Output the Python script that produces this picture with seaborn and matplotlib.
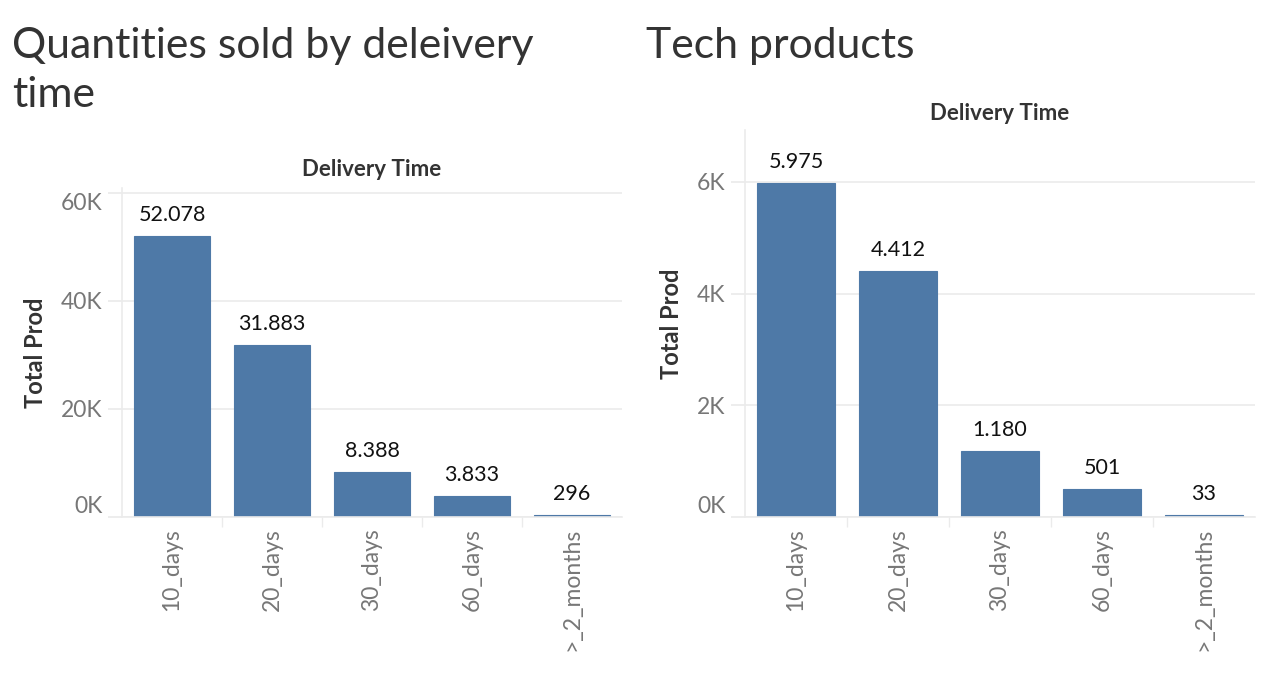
import matplotlib
matplotlib.use("Agg")
import matplotlib.pyplot as plt
from matplotlib.ticker import FuncFormatter, FixedLocator
import seaborn as sns
import pandas as pd

categories = ["10_days", "20_days", "30_days", "60_days", ">_2_months"]
all_qty = [52078, 31883, 8388, 3833, 296]
tech_qty = [5975, 4412, 1180, 501, 33]
left_ticks = [0, 20000, 40000, 60000]
right_ticks = [0, 2000, 4000, 6000]

sns.set_theme(style="white")
plt.rcParams["font.family"] = ["Lato", "DejaVu Sans"]

BAR = "#4e79a7"
GRID = "#ebebeb"
TICK = "#777777"

fig = plt.figure(figsize=(12.64, 6.88), dpi=100)
ax1 = fig.add_axes([122/1264, 1-517/688, 500/1264, (517-188)/688])
ax2 = fig.add_axes([745/1264, 1-517/688, 510/1264, (517-130)/688])

def kfmt(v, pos):
    return f"{int(round(v/1000))}K"

def draw(ax, vals, ticks, ymax, width, top_shift):
    df = pd.DataFrame({"cat": categories, "val": vals})
    sns.barplot(data=df, x="cat", y="val", color=BAR, width=width, ax=ax,
                saturation=1, order=categories, edgecolor=BAR, linewidth=0.8)
    ax.set_xlim(-0.5, 4.5)
    ax.set_ylim(0, ymax)
    ax.yaxis.set_major_locator(FixedLocator(ticks))
    ax.yaxis.set_major_formatter(FuncFormatter(kfmt))
    ax.grid(axis="y", color=GRID, linewidth=1.2)
    ax.set_axisbelow(True)
    for s in ["top", "right"]:
        ax.spines[s].set_visible(False)
    for s in ["left", "bottom"]:
        ax.spines[s].set_color(GRID)
        ax.spines[s].set_linewidth(1.2)
    ax.tick_params(axis="y", length=10, color=GRID, labelsize=16.5,
                   labelcolor=TICK, pad=4, left=True)
    ax.tick_params(axis="x", length=0, labelsize=16.5, labelcolor=TICK,
                   rotation=90, pad=8)
    ax.set_xlabel("")
    ax.set_ylabel("Total Prod", fontsize=17, fontweight="bold", color="#333333",
                  labelpad=10)
    for c in ax.containers:
        ax.bar_label(c, labels=[f"{v:,}".replace(",", ".") for v in vals],
                     fontsize=15.5, color="#111111", padding=8)
    ax.xaxis.set_minor_locator(FixedLocator([0.5, 1.5, 2.5, 3.5]))
    ax.tick_params(axis="x", which="minor", length=7, color=GRID, bottom=True)
    fig.canvas.draw()
    labs = ax.get_yticklabels()
    labs[0].set_va("bottom")
    if top_shift:
        labs[-1].set_va("top")

draw(ax1, all_qty, left_ticks, 60900, 0.76, True)
draw(ax2, tech_qty, right_ticks, 6930, 0.755, False)

fig.text(372/1264, 1-170/688, "Delivery Time", ha="center", va="center",
         fontsize=16, fontweight="bold", color="#333333")
fig.text(1000/1264, 1-114/688, "Delivery Time", ha="center", va="center",
         fontsize=16, fontweight="bold", color="#333333")

fig.text(12/1264, 1-27/688, "Quantities sold by deleivery\ntime", ha="left", va="top",
         fontsize=30.8, color="#333333", linespacing=1.35)
fig.text(646/1264, 1-27/688, "Tech products", ha="left", va="top",
         fontsize=30.8, color="#333333")

fig.savefig("out.png", dpi=100)
